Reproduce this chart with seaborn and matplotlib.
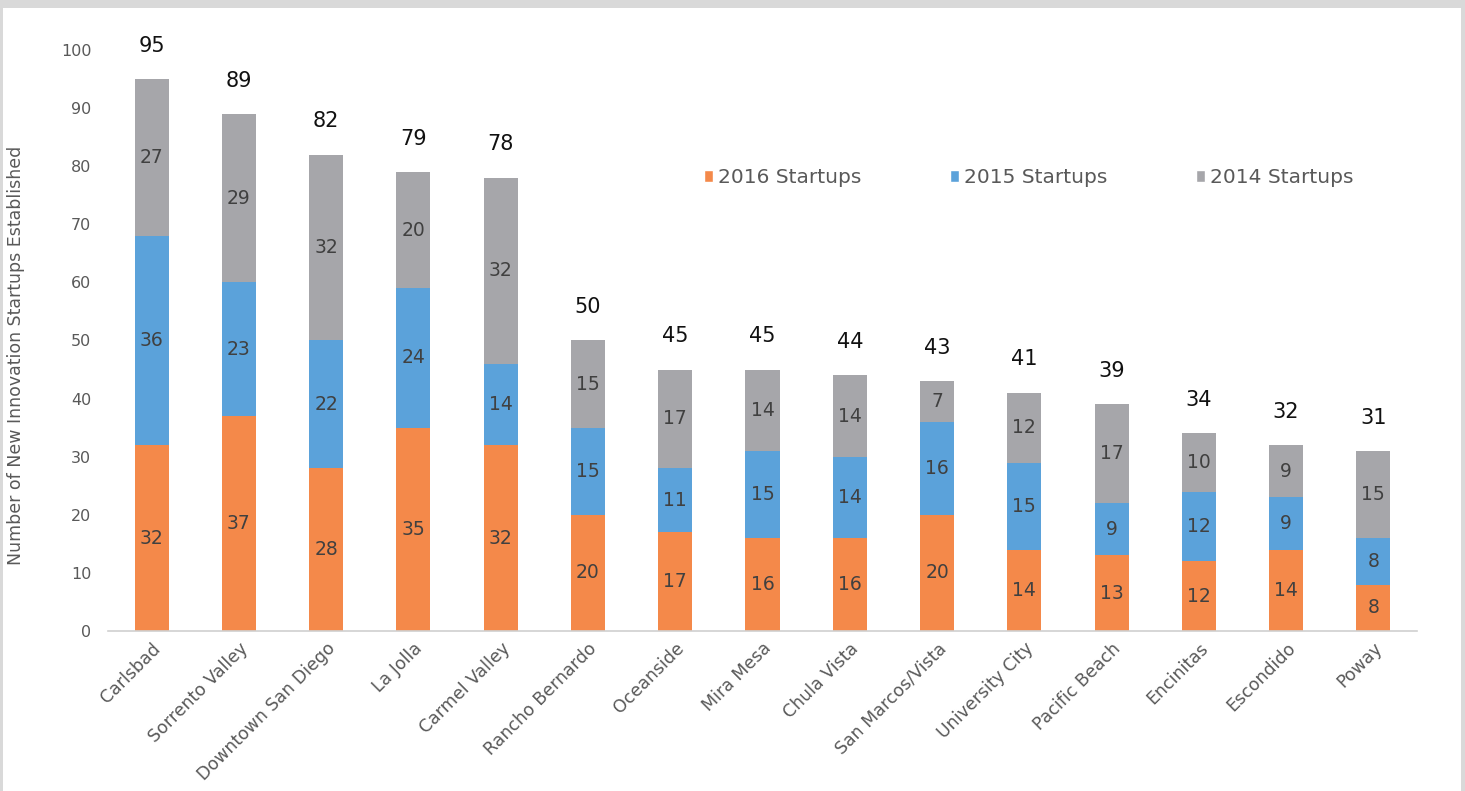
import matplotlib
matplotlib.use("Agg")
import matplotlib.pyplot as plt
from matplotlib.patches import Rectangle, Patch
import numpy as np
import pandas as pd
import seaborn as sns

# data
areas = ["Carlsbad", "Sorrento Valley", "Downtown San Diego", "La Jolla", "Carmel Valley",
         "Rancho Bernardo", "Oceanside", "Mira Mesa", "Chula Vista", "San Marcos/Vista",
         "University City", "Pacific Beach", "Encinitas", "Escondido", "Poway"]
startups_2016 = [32, 37, 28, 35, 32, 20, 17, 16, 16, 20, 14, 13, 12, 14, 8]
startups_2015 = [36, 23, 22, 24, 14, 15, 11, 15, 14, 16, 15, 9, 12, 9, 8]
startups_2014 = [27, 29, 32, 20, 32, 15, 17, 14, 14, 7, 12, 17, 10, 9, 15]
y_ticks = list(range(0, 101, 10))

ORANGE = "#F4894A"
BLUE = "#5BA2DA"
GRAY = "#A6A6AA"
TEXT = "#595959"

sns.set_theme(style="white")
plt.rcParams["font.family"] = ["DejaVu Sans"]

df = pd.DataFrame({
    "area": areas,
    "s2016": startups_2016,
    "s2015": startups_2015,
    "s2014": startups_2014,
})
df["low"] = df["s2016"]
df["mid"] = df["s2016"] + df["s2015"]
df["total"] = df["mid"] + df["s2014"]

fig = plt.figure(figsize=(14.65, 7.91), dpi=100, facecolor="#D9D9D9")
fig.patches.append(Rectangle((3 / 1465, 0), (1461 - 3) / 1465, 1 - 8 / 791,
                             transform=fig.transFigure, facecolor="white",
                             edgecolor="none", zorder=-5))
ax = fig.add_axes([108 / 1465, 1 - 631 / 791, (1417 - 108) / 1465, (631 - 50) / 791])
ax.set_facecolor("none")

# stacked bars drawn as overlapping cumulative totals
for col, color in [("total", GRAY), ("mid", BLUE), ("low", ORANGE)]:
    sns.barplot(data=df, x="area", y=col, color=color, width=0.39,
                saturation=1, linewidth=0, ax=ax, zorder=2)

ax.set_xlim(-0.5, len(areas) - 0.5)
ax.set_ylim(0, 100)
ax.set_yticks(y_ticks)
ax.tick_params(axis="y", labelsize=11.5, labelcolor=TEXT, length=0, pad=12)
ax.tick_params(axis="x", labelsize=12.5, labelcolor=TEXT, length=0, pad=6)
plt.setp(ax.get_xticklabels(), rotation=45, ha="right", rotation_mode="anchor")
ax.set_xlabel("")
ax.set_ylabel("")
fig.text(16 / 1465, 1 - 355 / 791, "Number of New Innovation Startups Established",
         rotation=90, ha="center", va="center", fontsize=12.5, color=TEXT)

for side in ["top", "right", "left"]:
    ax.spines[side].set_visible(False)
ax.spines["bottom"].set_color("#D0D0D0")
ax.spines["bottom"].set_linewidth(1.2)

# segment labels
for i, row in df.iterrows():
    for lo, val in [(0, row["s2016"]), (row["low"], row["s2015"]), (row["mid"], row["s2014"])]:
        ax.text(i, lo + val / 2, str(val), ha="center", va="center",
                fontsize=13.5, color="#404040", zorder=3)
    ax.annotate(str(row["total"]), (i, row["total"]), xytext=(0, 24),
                textcoords="offset points", ha="center", va="center",
                fontsize=15, color="#111111", annotation_clip=False)

handles = [Patch(facecolor=ORANGE, label="2016 Startups"),
           Patch(facecolor=BLUE, label="2015 Startups"),
           Patch(facecolor=GRAY, label="2014 Startups")]
leg = ax.legend(handles=handles, ncol=3, loc="center", bbox_to_anchor=(0.7036, 0.781),
                frameon=False, fontsize=14.5, handlelength=0.45, handleheight=0.55,
                handletextpad=0.25, columnspacing=4.4)
for t in leg.get_texts():
    t.set_color(TEXT)

fig.savefig("out.png", dpi=100, facecolor=fig.get_facecolor())
